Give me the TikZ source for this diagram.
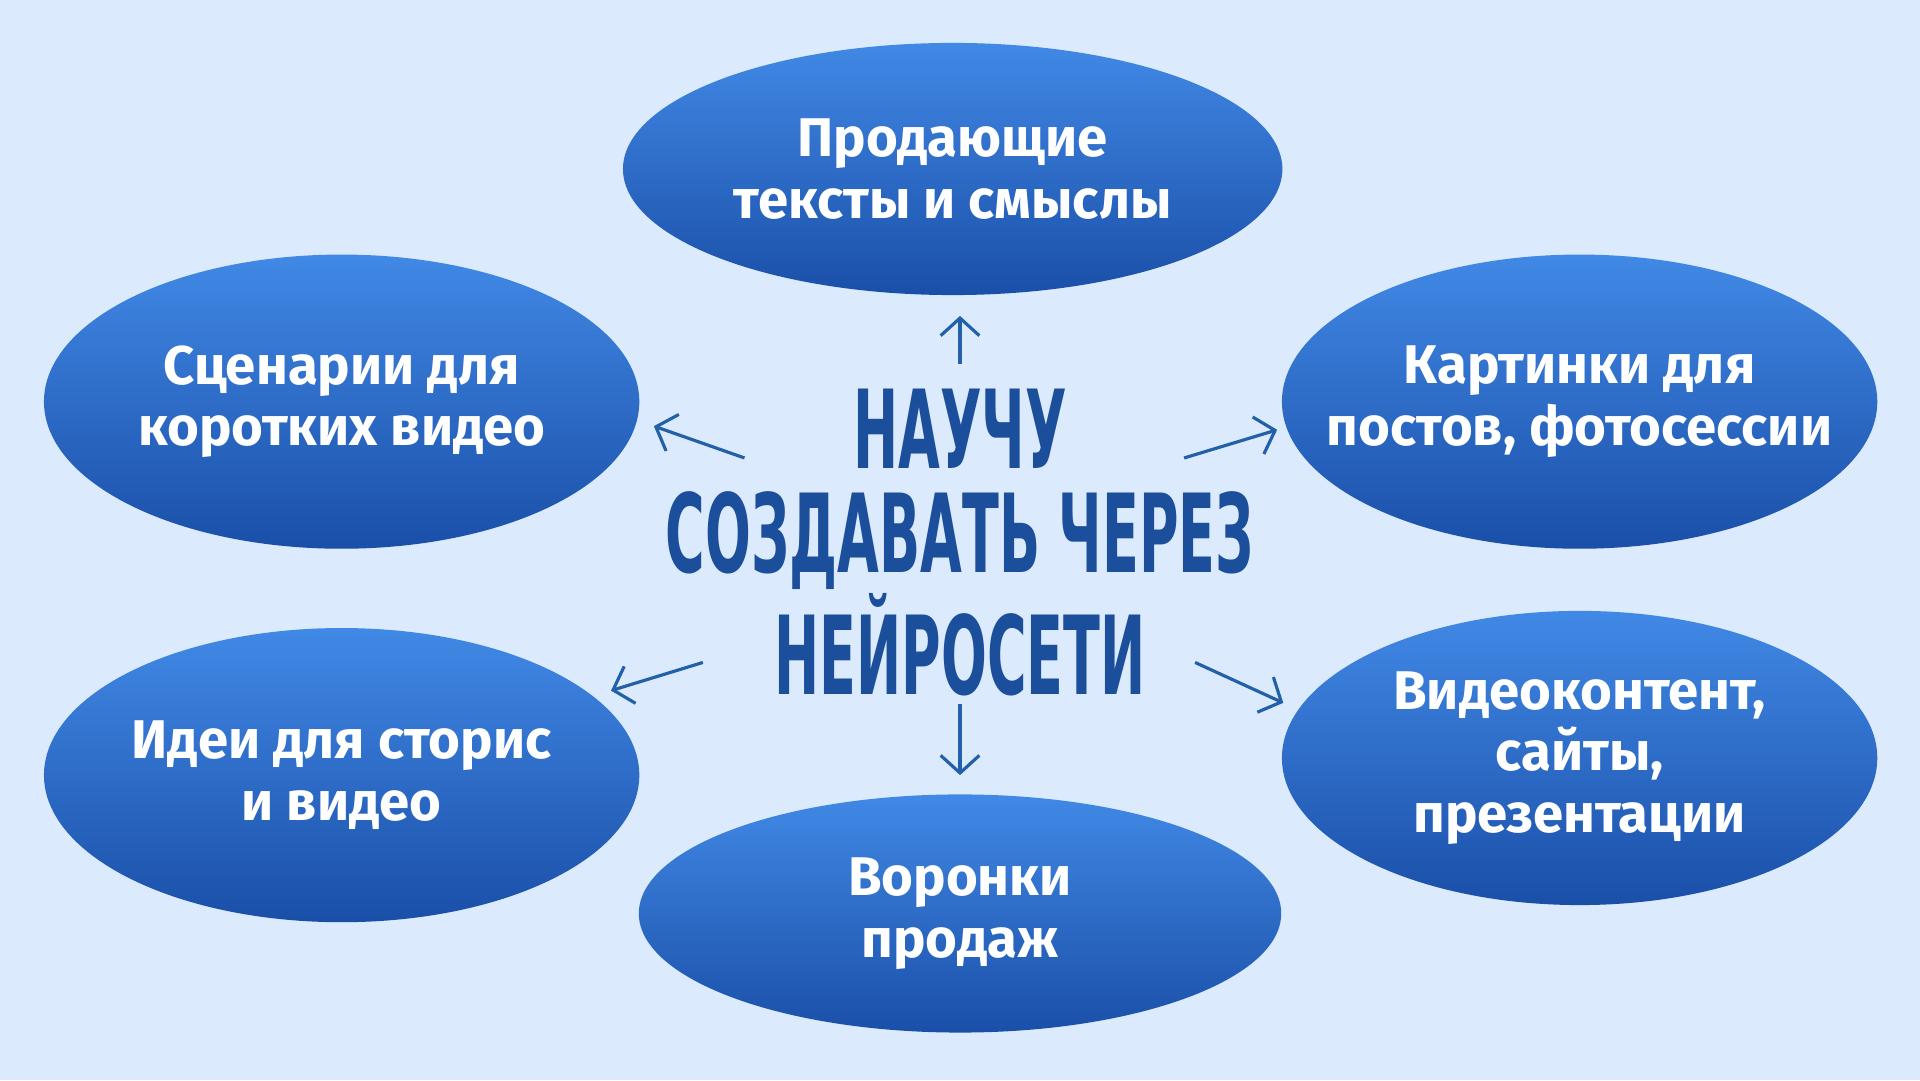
\documentclass[tikz,border=0pt]{standalone}
\usepackage{fontspec}
\setmainfont{Fira Sans}
\newfontfamily\headfont{DejaVu Sans Condensed}
\usetikzlibrary{shapes.geometric,arrows.meta}
\definecolor{bgblue}{HTML}{DBEAFC}
\definecolor{toptone}{HTML}{4189E6}
\definecolor{bottone}{HTML}{1A4FA8}
\definecolor{headblue}{HTML}{1B4E9B}
\definecolor{arrowblue}{HTML}{2260A8}
\tikzset{
  topic/.style={ellipse,inner sep=0pt,top color=toptone,bottom color=bottone},
  topictext/.style={text=white,align=center,font=\fontsize{15.5}{17.5}\selectfont\bfseries},
  pointer/.style={draw=arrowblue,line width=0.9pt,-{Straight Barb[length=5pt,width=11pt]}}
}
\begin{document}
\begin{tikzpicture}[x=0.012245cm,y=-0.012245cm]
\fill[bgblue] (0,0) rectangle (1568,882);
\useasboundingbox (0,0) rectangle (1568,882);
% ellipses
\node[topic,minimum width=6.59cm,minimum height=2.52cm] (texts) at (778,138) {};
\node[topic,minimum width=5.95cm,minimum height=2.94cm] (scripts) at (279,328) {};
\node[topic,minimum width=5.95cm,minimum height=2.94cm] (images) at (1290,328) {};
\node[topic,minimum width=5.95cm,minimum height=2.94cm] (ideas) at (279,633) {};
\node[topic,minimum width=5.95cm,minimum height=2.94cm] (video) at (1290,619) {};
\node[topic,minimum width=6.42cm,minimum height=2.38cm] (funnels) at (784,746) {};
\node[topictext] (textslbl) at (texts) {Продающие\\тексты и смыслы};
\node[topictext] (scriptslbl) at (scripts) {Сценарии для\\коротких видео};
\node[topictext] (imageslbl) at (images) {Картинки для\\постов, фотосессии};
\node[topictext] (ideaslbl) at (ideas) {Идеи для сторис\\и видео};
\node[topictext] (videolbl) at (video) {Видеоконтент,\\сайты,\\презентации};
\node[topictext] (funnelslbl) at (funnels) {Воронки\\продаж};
% centre
\node[text=headblue,align=center,font=\headfont\bfseries\fontsize{31}{29.5}\selectfont] (centre) at (784,443)
  {\scalebox{0.55}[1]{НАУЧУ}\\\scalebox{0.55}[1]{СОЗДАВАТЬ ЧЕРЕЗ}\\\scalebox{0.55}[1]{НЕЙРОСЕТИ}};
% arrows
\coordinate (a1) at (784,297); \coordinate (b1) at (784,258);
\coordinate (a2) at (608,374); \coordinate (b2) at (534,348);
\coordinate (a3) at (967,374); \coordinate (b3) at (1043,351);
\coordinate (a4) at (574,541); \coordinate (b4) at (499,564);
\coordinate (a5) at (976,541); \coordinate (b5) at (1048,574);
\coordinate (a6) at (784,575); \coordinate (b6) at (784,633);
\foreach \i in {1,...,6}
  \draw[pointer] (a\i) -- (b\i);
\end{tikzpicture}
\end{document}
